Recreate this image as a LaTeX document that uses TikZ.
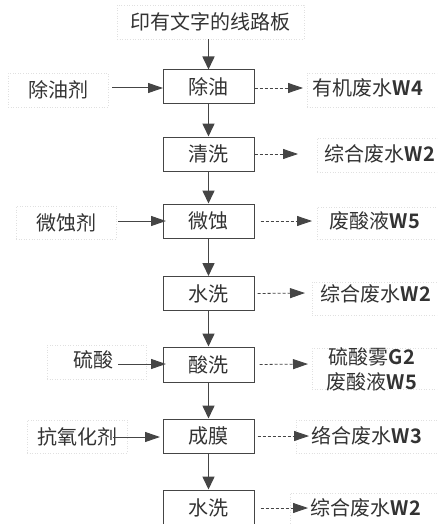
\documentclass[tikz,border=0pt]{standalone}
\usepackage{fontspec}
\setmainfont{Noto Sans CJK SC}[BoldFont={Noto Sans CJK SC Bold}]
\usetikzlibrary{arrows.meta}
\definecolor{ln}{HTML}{454545}
\definecolor{tx}{HTML}{333333}
\definecolor{dt}{HTML}{E0E0E0}
\tikzset{
  every node/.style={font=\fontsize{20}{23}\selectfont, text=tx},
  mainbox/.style={draw=ln, line width=1pt, fill=white, minimum width=91pt, minimum height=34pt, inner sep=0pt},
  tbox/.style={draw=dt, dotted, line width=0.6pt, inner sep=0pt},
  flow/.style={draw=ln, line width=1.6pt, -{Triangle[length=13pt,width=12pt]}},
  feed/.style={draw=ln, line width=1pt, -{Triangle[length=15pt,width=10pt]}},
  emit/.style={draw=ln, line width=0.8pt, dash pattern=on 3pt off 2pt, -{Triangle[length=15pt,width=10pt]}},
}
\newcommand{\wl}[1]{\textbf{#1}}
\begin{document}
\begin{tikzpicture}[x=1pt,y=-1pt]
\clip (0,0) rectangle (437,524);
\fill[white] (0,0) rectangle (437,524);
% top input
\node[tbox, minimum width=187pt, minimum height=34pt] (top) at (210.5,22) {印有文字的线路板};
% main column
\node[mainbox] (p1) at (208.5,87) {除油};
\node[mainbox] (p2) at (208.5,154) {清洗};
\node[mainbox] (p3) at (208.5,221) {微蚀};
\node[mainbox] (p4) at (208.5,293.5) {水洗};
\node[mainbox, minimum height=35pt] (p5) at (208.5,364.5) {酸洗};
\node[mainbox] (p6) at (208.5,436) {成膜};
\node[mainbox, minimum height=60pt] (p7) at (208.5,520) {};
\node (p7t) at (208.5,508) {水洗};
% left inputs
\node[tbox, minimum width=100pt, minimum height=34pt] (l1) at (58,90) {除油剂};
\node[tbox, minimum width=100pt, minimum height=33pt] (l3) at (66,222.5) {微蚀剂};
\node[tbox, minimum width=99pt, minimum height=34pt] (l5) at (96.5,362) {};
\node (l5t) at (93,360) {硫酸};
\node[tbox, minimum width=100pt, minimum height=33pt] (l6) at (77,436.5) {抗氧化剂};
\coordinate (s1) at (112,88);
\coordinate (s3) at (118,221);
\coordinate (s5) at (118,364);
\coordinate (s6) at (113,437);
\coordinate (e1) at (163,88);
\coordinate (e3) at (166,221);
\coordinate (e5) at (166,364);
\coordinate (e6) at (160,437);
% right outputs
\node[tbox, minimum width=134pt, minimum height=34pt] (r1) at (374,90) {};
\node (r1t) at (368,88) {有机废水\wl{W4}};
\node[tbox, minimum width=124pt, minimum height=34pt] (r2) at (379,155) {};
\node (r2t) at (380,154) {综合废水\wl{W2}};
\node[tbox, minimum width=124pt, minimum height=32pt] (r3) at (379,223) {};
\node (r3t) at (375,221) {废酸液\wl{W5}};
\node[tbox, minimum width=129pt, minimum height=33pt] (r4) at (376.5,298.5) {};
\node (r4t) at (376,294) {综合废水\wl{W2}};
\node[tbox, minimum width=129pt, minimum height=41pt] (r5) at (376.5,368.5) {};
\node (r5a) at (372,357) {硫酸雾\wl{G2}};
\node (r5b) at (372,382) {废酸液\wl{W5}};
\node[tbox, minimum width=145pt, minimum height=33pt] (r6) at (368.5,436.5) {};
\node (r6t) at (367,436) {络合废水\wl{W3}};
\node[tbox, minimum width=151pt, minimum height=40pt] (r7) at (365.5,513) {};
\node (r7t) at (366,508) {综合废水\wl{W2}};
% main flow
\draw[flow] (top.south -| p1) -- (p1.north);
\draw[flow] (p1) -- (p2);
\draw[flow] (p2) -- (p3);
\draw[flow] (p3) -- (p4);
\draw[flow] (p4) -- (p5);
\draw[flow] (p5) -- (p6);
\draw[flow] (p6) -- (p7);
% feeds
\draw[feed] (s1) -- (e1);
\draw[feed] (s3) -- (e3);
\draw[feed] (s5) -- (e5);
\draw[feed] (s6) -- (e6);
% emissions
\coordinate (o1) at (303,88);
\coordinate (o2) at (298,154);
\coordinate (o3) at (312,221);
\coordinate (o4) at (305,293);
\coordinate (o5) at (308,364);
\coordinate (o6) at (309,436);
\coordinate (o7) at (308,508);
\draw[emit] (p1.east) ++(0,1) -- (o1);
\draw[emit] (p2.east) -- (o2);
\draw[emit] ([xshift=6pt]p3.east) -- (o3);
\draw[emit] ([xshift=3pt]p4.east) -- (o4);
\draw[emit] ([xshift=5pt]p5.east) -- (o5);
\draw[emit] ([xshift=3pt]p6.east) -- (o6);
\draw[emit] ([xshift=6pt]p7.east |- o7) -- (o7);
\end{tikzpicture}
\end{document}
